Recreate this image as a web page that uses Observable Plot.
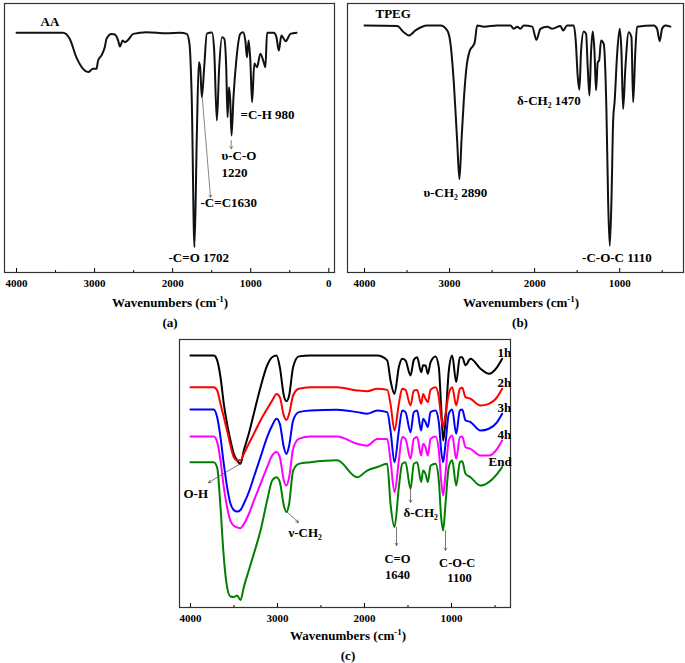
<!DOCTYPE html>
<html><head><meta charset="utf-8">
<script src="https://cdn.jsdelivr.net/npm/d3@7"></script>
<script src="https://cdn.jsdelivr.net/npm/@observablehq/plot@0.6"></script>
<style>
body{margin:0;background:#fff;}
#root{position:relative;width:685px;height:663px;overflow:hidden;font-family:"Liberation Serif","Times New Roman",serif;font-weight:bold;color:#000;}
.p{position:absolute;}
.lbl{position:absolute;transform:translate(-50%,-50%);font-size:13px;line-height:1;white-space:nowrap;}
.lbl sup{font-size:9px;vertical-align:5px;line-height:0;}
</style></head><body><div id="root"></div>
<script>
// ---------- Panel (a): AA ----------
const wnA = [4000,3405,3319,3233,3126,3083,3019,2976,2955,2912,2869,2847,2783,2740,2698,2676,2641,2612,2569,2505,2333,2076,1905,1819,1785,1755,1721,1690,1665,1648,1626,1596,1562,1497,1468,1434,1404,1368,1339,1314,1297,1279,1262,1246,1221,1185,1134,1099,1069,1048,1027,1005,983,954,919,877,834,812,791,706,671,641,607,577,552,491,414];
const tA = [89.1,89.1,86.9,80.0,75.1,74.5,75.7,75.7,78.8,80.7,83.8,86.9,88.7,88.5,86.2,84.0,86.2,85.6,86.5,88.7,89.3,88.9,89.1,88.7,85.1,63.9,9.4,51.7,78.2,76.3,65.2,76.3,88.8,89.2,82.5,56.5,76.3,87.5,86.9,76.3,57.7,68.9,63.9,50.9,65.2,78.8,88.7,89.3,86.2,80.0,86.2,78.8,63.3,77.7,76.3,81.3,78.2,76.3,89.1,89.1,87.5,82.5,88.1,86.9,86.0,88.7,89.1];
const annALabels = ["AA","=C-H 980","υ-C-O","1220","-C=C1630","-C=O 1702"];
const annAW = [3693,1131,1374,1374,1643,2053];
const annAT = [93.3,58.7,43.5,37.2,26.0,5.6];
const arrAX1 = [1621,1250], arrAY1 = [65.2,49.1], arrAX2 = [1515,1250], arrAY2 = [27.9,46.0];
const majorA = [4000,3000,2000,1000,0];
const minorA = [3500,2500,1500,500];

// ---------- Panel (b): TPEG ----------
const wnB = [4000,3616,3538,3479,3401,3264,3107,3028,2989,2949,2911,2884,2860,2833,2801,2762,2723,2704,2676,2598,2441,2284,2246,2206,2167,2128,2029,1979,1932,1853,1794,1697,1665,1618,1540,1517,1493,1474,1454,1423,1395,1376,1356,1336,1317,1297,1278,1258,1242,1219,1188,1156,1136,1117,1097,1077,1059,1030,1000,980,960,933,894,862,842,816,796,600,561,530,502,463,404];
const tB = [91.8,91.6,89.3,88.1,90.0,91.8,91.8,90.0,85.0,70.0,49.0,34.7,49.0,63.9,76.3,82.5,84.3,85.6,91.8,91.4,91.8,91.8,90.6,91.4,90.6,91.8,91.4,86.5,90.6,91.4,90.6,91.6,90.0,91.8,91.8,86.2,72.6,67.9,82.5,89.6,88.7,76.3,65.8,82.5,89.6,82.5,67.7,78.2,78.8,86.2,85.0,60.2,26.7,9.9,26.7,56.5,63.9,81.3,90.6,82.5,60.8,76.3,89.3,87.5,63.3,82.5,91.4,91.8,90.6,86.0,90.6,91.8,91.4];
const annBLabels = ["TPEG","υ-CH₂ 2890","δ-CH₂ 1470","-C-O-C 1110"];
const annBW = [3871,3307,2206,1442];
const annBT = [96.3,29.7,63.9,5.6];
const majorB = [4000,3000,2000,1000];
const minorB = [3500,2500,1500,500];

// ---------- Panel (c): reaction time series ----------
const wnC = [4000,3732,3693,3655,3617,3579,3540,3502,3464,3425,3387,3330,3272,3195,3119,3061,3011,2973,2927,2897,2866,2820,2755,2621,2314,2084,1969,1854,1739,1701,1655,1605,1567,1529,1471,1433,1395,1349,1326,1299,1272,1241,1184,1146,1119,1096,1069,1031,992,946,904,877,839,782,667,571,475,418];
const t1h = [94.0,94.0,92.2,86.0,76.0,68.5,62.3,57.3,54.9,53.6,58.6,64.8,72.3,82.2,90.3,93.4,94.0,89.7,79.1,77.0,79.1,89.7,93.7,94.0,94.0,94.0,94.0,94.0,92.2,84.7,79.7,89.7,92.8,92.2,86.6,92.4,93.4,87.8,90.4,90.3,87.2,91.5,93.7,89.7,74.8,62.3,69.8,88.4,94.0,84.1,93.4,93.4,90.4,92.8,89.1,87.2,89.7,92.8];
const t2h = [82.2,82.2,81.0,76.0,71.0,66.0,60.4,56.1,54.9,54.9,57.3,61.1,64.8,69.8,74.1,77.2,79.7,78.5,71.6,70.0,72.3,79.1,81.6,82.2,82.2,81.0,80.7,81.6,81.2,76.0,66.0,76.0,81.6,81.2,75.4,81.0,81.2,76.0,79.7,77.9,76.6,81.2,82.2,78.5,71.0,67.3,72.3,79.7,82.2,75.4,81.6,82.0,78.5,77.9,75.4,76.0,78.5,81.6];
const t3h = [73.9,73.9,71.0,63.6,53.6,44.9,38.7,36.4,35.8,36.4,38.7,43.0,48.6,56.1,63.6,67.9,70.4,68.5,59.8,57.3,60.4,69.8,72.9,73.5,73.8,72.9,72.3,73.5,72.9,66.0,54.2,66.0,73.5,72.9,65.4,72.9,73.5,66.0,70.4,69.2,67.3,72.9,73.5,69.2,58.6,54.2,61.1,72.3,73.9,64.8,73.5,73.9,69.8,69.2,66.0,66.7,69.2,72.3];
const t4h = [63.8,63.8,61.7,54.9,44.9,37.4,32.3,30.5,29.9,29.6,31.1,34.8,39.8,46.1,52.4,56.7,58.0,56.1,47.4,45.5,48.6,59.2,62.9,63.8,63.8,61.1,60.4,62.9,62.9,54.9,43.0,54.9,63.6,62.9,55.5,62.9,63.6,56.7,61.1,59.8,56.7,62.9,63.8,58.6,47.4,41.8,49.9,62.3,64.2,55.5,63.6,63.8,59.8,59.2,56.7,56.7,59.2,62.3];
const tEnd = [54.2,54.2,52.2,37.4,18.8,7.6,4.1,3.9,4.5,2.8,7.6,13.8,20.0,28.7,39.9,47.4,48.6,46.8,38.1,35.6,38.7,51.1,53.6,54.2,54.9,48.6,51.1,52.4,53.6,38.7,30.0,44.9,53.6,54.2,44.3,53.6,54.2,46.8,51.1,49.9,46.8,52.9,53.6,47.4,33.7,28.7,38.7,52.4,54.9,45.5,54.2,54.6,49.9,48.6,45.5,46.8,49.9,52.4];
const seriesC = ["1h","2h","3h","4h","End"];
const colorsC = ["#000000","#ff0000","#0000ff","#ff00ff","#008000"];
const seriesLabelW = [471,471,471,471,575];
const seriesLabelT = [95.1,84.0,74.6,64.6,54.5];
const annCStart = ["O-H","ν-CH₂","δ-CH₂"];
const annCStartW = [4080,2874,1552];
const annCStartT = [42.5,28.0,35.4];
const annCMid = ["C=O","1640","C-O-C","1100"];
const annCMidW = [1621,1621,935,908];
const annCMidT = [18.1,12.2,16.6,10.9];
const arrCX1 = [3425,2889,1471,1632,1069], arrCY1 = [53.7,35.6,44.4,29.9,28.7];
const arrCX2 = [3793,2759,1471,1632,1069], arrCY2 = [46.6,31.7,39.2,23.1,21.3];
const majorC = [4000,3000,2000,1000];
const minorC = [3500,2500,1500,500];

const captions = ["(a)","(b)","(c)"];
const xTitle = "Wavenumbers (cm<sup>-1</sup>)";

// ---------- build ----------
const FONT = '"Liberation Serif","Times New Roman",serif';
const root = document.getElementById("root");
const fmt = d3.format("d");

function axes(majors, minors) {
  return [
    Plot.axisX(majors, {tickSize: -4, tickPadding: 11, tickFormat: fmt, label: null, fontSize: 11, fontWeight: "bold"}),
    Plot.axisX(minors, {tickSize: -2, fill: "none", label: null})
  ];
}
function place(svg, left, top) {
  const d = document.createElement("div");
  d.className = "p"; d.style.left = left + "px"; d.style.top = top + "px";
  d.appendChild(svg); root.appendChild(d);
}
function label(html, x, y) {
  const d = document.createElement("div");
  d.className = "lbl"; d.style.left = x + "px"; d.style.top = y + "px";
  d.innerHTML = html; root.appendChild(d);
}
const baseStyle = {fontFamily: FONT, fontWeight: "bold", fontSize: "11px", color: "#000", background: "transparent", overflow: "visible", maxWidth: "none"};

const dataA = wnA.map((w, i) => ({w, t: tA[i]}));
const annA = annALabels.map((l, i) => ({l, w: annAW[i], t: annAT[i]}));
const arrA = arrAX1.map((x1, i) => ({x1, y1: arrAY1[i], x2: arrAX2[i], y2: arrAY2[i]}));
place(Plot.plot({
  width: 345, height: 295, marginLeft: 4, marginRight: 11, marginTop: 3, marginBottom: 23,
  x: {domain: [4154, -73]}, y: {domain: [0, 100], axis: null},
  style: baseStyle,
  marks: [
    Plot.frame({stroke: "#333", strokeWidth: 1.2}),
    ...axes(majorA, minorA),
    Plot.line(dataA, {x: "w", y: "t", stroke: "#111", strokeWidth: 2, curve: "monotone-x"}),
    Plot.arrow(arrA, {x1: "x1", y1: "y1", x2: "x2", y2: "y2", stroke: "#666", strokeWidth: 0.8, headLength: 5}),
    Plot.text(annA, {x: "w", y: "t", text: "l", textAnchor: "start", fontSize: 13, fill: "#000"})
  ]
}), 0, 0);

const dataB = wnB.map((w, i) => ({w, t: tB[i]}));
const annB = annBLabels.map((l, i) => ({l, w: annBW[i], t: annBT[i]}));
place(Plot.plot({
  width: 345, height: 295, marginLeft: 7, marginRight: 2, marginTop: 3, marginBottom: 23,
  x: {domain: [4200, 250]}, y: {domain: [0, 100], axis: null},
  style: baseStyle,
  marks: [
    Plot.frame({stroke: "#333", strokeWidth: 1.2}),
    ...axes(majorB, minorB),
    Plot.line(dataB, {x: "w", y: "t", stroke: "#111", strokeWidth: 2, curve: "monotone-x"}),
    Plot.text(annB, {x: "w", y: "t", text: "l", textAnchor: "start", fontSize: 13, fill: "#000"})
  ]
}), 340, 0);

const valsC = [t1h, t2h, t3h, t4h, tEnd];
const dataC = seriesC.flatMap((s, j) => wnC.map((w, i) => ({w, t: valsC[j][i], s})));
const serLab = seriesC.map((s, i) => ({s, w: seriesLabelW[i], t: seriesLabelT[i]}));
const annCs = annCStart.map((l, i) => ({l, w: annCStartW[i], t: annCStartT[i]}));
const annCm = annCMid.map((l, i) => ({l, w: annCMidW[i], t: annCMidT[i]}));
const arrC = arrCX1.map((x1, i) => ({x1, y1: arrCY1[i], x2: arrCX2[i], y2: arrCY2[i]}));
place(Plot.plot({
  width: 345, height: 300, marginLeft: 9, marginRight: 5, marginTop: 9, marginBottom: 23,
  x: {domain: [4126, 322]}, y: {domain: [0, 100], axis: null},
  color: {domain: seriesC, range: colorsC},
  style: baseStyle,
  marks: [
    Plot.frame({stroke: "#333", strokeWidth: 1.2}),
    ...axes(majorC, minorC),
    Plot.line(dataC, {x: "w", y: "t", z: "s", stroke: "s", strokeWidth: 2, curve: "monotone-x"}),
    Plot.arrow(arrC, {x1: "x1", y1: "y1", x2: "x2", y2: "y2", stroke: "#555", strokeWidth: 0.8, headLength: 5}),
    Plot.text(serLab, {x: "w", y: "t", text: "s", textAnchor: "start", fontSize: 13, fill: "#000"}),
    Plot.text(annCs, {x: "w", y: "t", text: "l", textAnchor: "start", fontSize: 13, fill: "#000"}),
    Plot.text(annCm, {x: "w", y: "t", text: "l", textAnchor: "middle", fontSize: 12.5, fill: "#000"})
  ]
}), 170, 330);

label(xTitle, 170, 302); label(captions[0], 170, 322);
label(xTitle, 521, 302); label(captions[1], 520, 322);
label(xTitle, 348, 635); label(captions[2], 348, 655);
</script></body></html>
